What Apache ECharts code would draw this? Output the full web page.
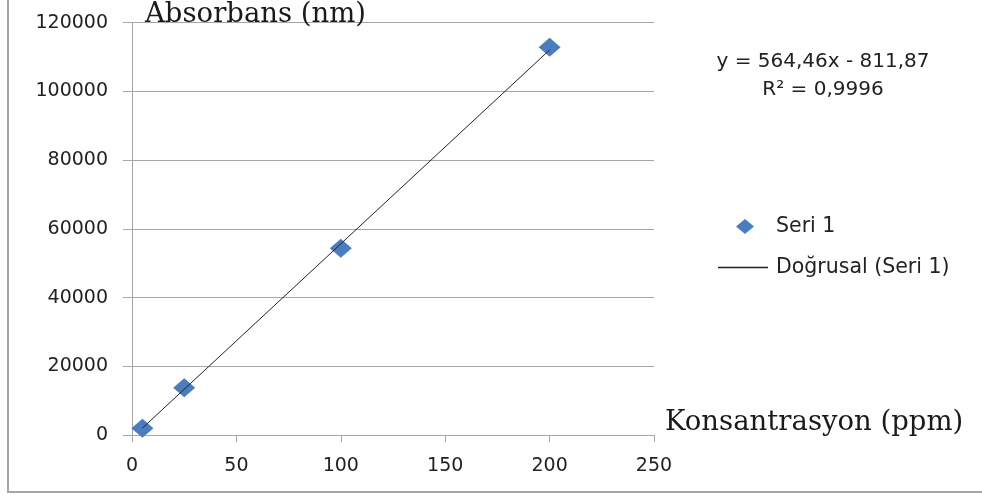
<!DOCTYPE html>
<html>
<head>
<meta charset="utf-8">
<script src="https://cdn.jsdelivr.net/npm/echarts@6/dist/echarts.min.js"></script>
<style>html,body{margin:0;padding:0;background:#fff}#c{width:982px;height:495px}</style>
</head>
<body>
<div id="c"></div>
<script>
// Data
var concentration = [5, 25, 100, 200];
var absorbance = [1950, 13770, 54340, 112840];
var trendX = [5, 200];
var trendY = [2010.43, 112080.13];
var xTicks = [0, 50, 100, 150, 200, 250];
var yTicks = [0, 20000, 40000, 60000, 80000, 100000, 120000];
var seriesName = 'Seri 1';
var trendName = 'Doğrusal (Seri 1)';
var equationLines = ['y = 564,46x - 811,87', 'R² = 0,9996'];
var yTitle = 'Absorbans (nm)';
var xTitle = 'Konsantrasyon (ppm)';

var chart = echarts.init(document.getElementById('c'), null, {renderer: 'canvas'});
var sans = '"DejaVu Sans", sans-serif';
var serif = '"DejaVu Serif", serif';
var gray = '#a6a6a6';
var txt = '#222';

chart.setOption({
  animation: false,
  backgroundColor: '#fff',
  grid: {left: 132, right: 328, top: 22.7, bottom: 60, containLabel: false},
  xAxis: {
    type: 'value', min: xTicks[0], max: xTicks[xTicks.length - 1], interval: 50,
    name: xTitle, nameLocation: 'end', nameGap: 11,
    nameTextStyle: {fontFamily: serif, fontSize: 27.5, color: '#1a1a1a', align: 'left', verticalAlign: 'bottom', padding: [0, 0, -2, 0]},
    axisLine: {show: true, lineStyle: {color: gray, width: 1}},
    axisTick: {show: true, inside: false, length: 7, lineStyle: {color: gray}},
    axisLabel: {fontFamily: sans, fontSize: 19, color: txt, margin: 22},
    splitLine: {show: false}
  },
  yAxis: {
    type: 'value', min: yTicks[0], max: yTicks[yTicks.length - 1], interval: 20000,
    name: yTitle, nameLocation: 'end', nameGap: -6,
    nameTextStyle: {fontFamily: serif, fontSize: 27.5, color: '#1a1a1a', align: 'left', verticalAlign: 'bottom', padding: [0, 0, 0, 13]},
    axisLine: {show: true, lineStyle: {color: gray, width: 1}},
    axisTick: {show: true, inside: false, length: 9, lineStyle: {color: gray}},
    axisLabel: {fontFamily: sans, fontSize: 19, color: txt, margin: 24, formatter: function (v) { return String(v); }},
    splitLine: {show: true, lineStyle: {color: gray, width: 1}}
  },
  legend: [
    {
      orient: 'vertical', left: 736, top: 216, padding: 0, itemWidth: 18, itemHeight: 15, symbolKeepAspect: false,
      textStyle: {fontFamily: sans, fontSize: 20.5, color: txt, padding: [0, 0, 0, 17]},
      data: [{name: seriesName, icon: 'diamond', itemStyle: {color: '#4a7dbf'}}]
    },
    {
      orient: 'vertical', left: 718, top: 257, padding: 0, itemWidth: 50, itemHeight: 1.3, symbolKeepAspect: false,
      textStyle: {fontFamily: sans, fontSize: 20.5, color: txt, padding: [0, 0, 0, 3]},
      data: [{name: trendName, icon: 'rect', itemStyle: {color: '#222'}}]
    }
  ],
  series: [
    {
      name: trendName, type: 'line', symbol: 'none', showSymbol: false, silent: true,
      data: trendX.map(function (x, i) { return [x, trendY[i]]; }),
      lineStyle: {color: '#222', width: 1},
      itemStyle: {color: '#222'},
      z: 3
    },
    {
      name: seriesName, type: 'scatter', symbol: 'diamond', symbolSize: [22, 19],
      data: concentration.map(function (x, i) { return [x, absorbance[i]]; }),
      itemStyle: {color: '#4a7dbf', opacity: 1},
      z: 2
    }
  ],
  graphic: [
    {type: 'text', x: 823, y: 62, style: {text: equationLines[0], fontFamily: sans, fontSize: 20, fill: txt, align: 'center', verticalAlign: 'middle'}},
    {type: 'text', x: 823, y: 90, style: {text: equationLines[1], fontFamily: sans, fontSize: 20, fill: txt, align: 'center', verticalAlign: 'middle'}},
    {type: 'line', shape: {x1: 8, y1: 0, x2: 8, y2: 492}, style: {stroke: gray, lineWidth: 2}},
    {type: 'line', shape: {x1: 7, y1: 492, x2: 982, y2: 492}, style: {stroke: gray, lineWidth: 2}}
  ]
});
</script>
</body>
</html>
